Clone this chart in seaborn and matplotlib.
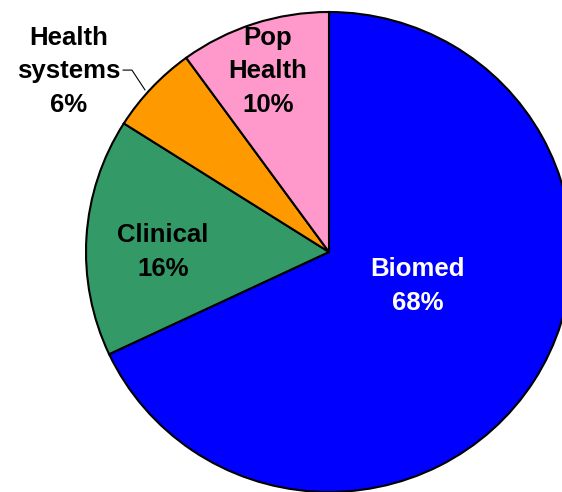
import matplotlib
matplotlib.use("Agg")
import matplotlib.pyplot as plt
import seaborn as sns

categories = ["Biomed", "Clinical", "Health\nsystems", "Pop\nHealth"]
shares = [68, 16, 6, 10]
colors = ["#0000FF", "#339966", "#FF9900", "#FF99CC"]
text_colors = ["white", "black", "black", "black"]

sns.set_theme(style="white")
plt.rcParams["font.family"] = ["Liberation Sans", "DejaVu Sans"]

fig = plt.figure(figsize=(5.62, 4.92), dpi=100)
ax = fig.add_axes([0, 0, 1, 1])

wedges, _ = ax.pie(shares, colors=colors, startangle=90, counterclock=False,
                   wedgeprops=dict(edgecolor="black", linewidth=1.5))

# label positions (pie radius = 1, centre at 0,0)
label_pos = [(0.366, -0.142), (-0.683, 0.0), (-1.07, 0.754), (-0.251, 0.754)]
for name, pct, tc, (x, y) in zip(categories, shares, text_colors, label_pos):
    ax.text(x, y, f"{name}\n{pct}%", ha="center", va="center", color=tc,
            fontsize=18.5, fontweight="bold", linespacing=1.5)

# leader line for the small slice
ax.plot([-0.848, -0.811, -0.757], [0.758, 0.758, 0.675], color="black", lw=0.8)

# slightly wider than tall, like the original
ax.set_xlim(-329 / 243, (562 - 329) / 243)
ax.set_ylim(-(492 - 252) / 240, 252 / 240)
ax.set_aspect("auto")
ax.axis("off")

fig.savefig("out.png", dpi=100)
